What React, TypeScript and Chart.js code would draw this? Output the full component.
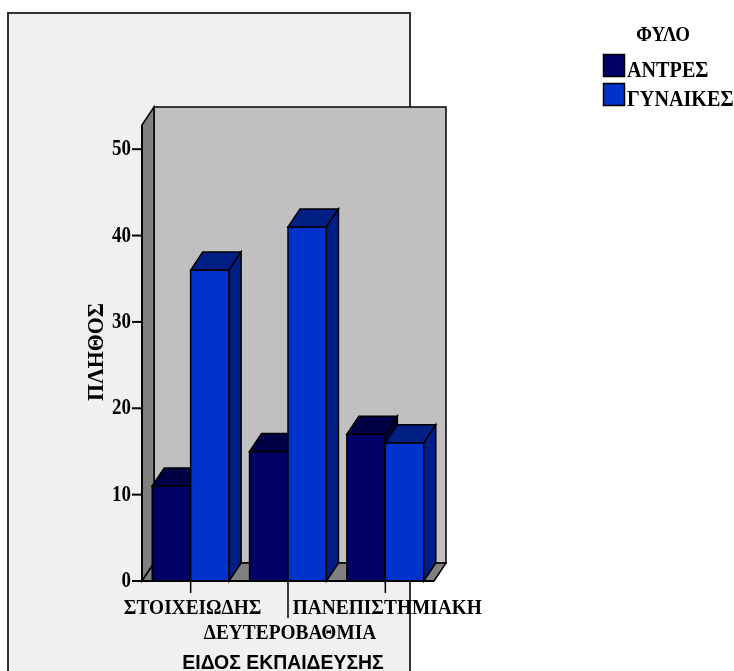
import { useEffect, useRef } from "react";
import { Chart, registerables } from "chart.js";

Chart.register(...registerables);

// Data
const categories = ["ΣΤΟΙΧΕΙΩΔΗΣ", "ΔΕΥΤΕΡΟΒΑΘΜΙΑ", "ΠΑΝΕΠΙΣΤΗΜΙΑΚΗ"];
const seriesLabels = ["ΑΝΤΡΕΣ", "ΓΥΝΑΙΚΕΣ"];
const menCounts = [11, 15, 17];
const womenCounts = [36, 41, 16];
const yTicks = [0, 10, 20, 30, 40, 50];
const yAxisTitle = "ΠΛΗΘΟΣ";
const xAxisTitle = "ΕΙΔΟΣ ΕΚΠΑΙΔΕΥΣΗΣ";
const legendTitle = "ΦΥΛΟ";

// Styling
const frontColors = ["#000066", "#0033cc"];
const shadeColors = ["#000044", "#001f85"];
const DX = 12;
const DY = -18;
const SERIF = "'Liberation Serif', 'Times New Roman', serif";
const SANS = "'Liberation Sans', Arial, sans-serif";

function drawText(
  ctx: CanvasRenderingContext2D,
  s: string,
  x: number,
  y: number,
  font: string,
  sx: number,
  align: CanvasTextAlign,
  baseline: CanvasTextBaseline = "middle",
  rotate = 0
) {
  ctx.save();
  ctx.font = font;
  ctx.fillStyle = "#000";
  ctx.textBaseline = baseline;
  ctx.textAlign = align;
  ctx.translate(x, y);
  if (rotate) ctx.rotate(rotate);
  ctx.scale(sx, 1);
  ctx.fillText(s, 0, 0);
  ctx.restore();
}

function poly(ctx: CanvasRenderingContext2D, pts: number[][], fill: string) {
  ctx.beginPath();
  ctx.moveTo(pts[0][0], pts[0][1]);
  for (let i = 1; i < pts.length; i++) ctx.lineTo(pts[i][0], pts[i][1]);
  ctx.closePath();
  ctx.fillStyle = fill;
  ctx.fill();
  ctx.stroke();
}

const chart3d = {
  id: "chart3d",
  beforeDraw(chart: any) {
    const ctx: CanvasRenderingContext2D = chart.ctx;
    ctx.save();
    ctx.fillStyle = "#ffffff";
    ctx.fillRect(0, 0, chart.width, chart.height);
    ctx.fillStyle = "#f0f0f0";
    ctx.fillRect(8, 13, 402, 700);
    ctx.strokeStyle = "#333333";
    ctx.lineWidth = 2;
    ctx.strokeRect(8, 13, 402, 700);
    ctx.restore();
  },
  beforeDatasetsDraw(chart: any) {
    const ctx: CanvasRenderingContext2D = chart.ctx;
    const { left, right, top, bottom } = chart.chartArea;
    ctx.save();
    ctx.strokeStyle = "#000";
    ctx.lineWidth = 1.5;
    ctx.lineJoin = "miter";
    // back wall
    poly(
      ctx,
      [
        [left + DX, top + DY],
        [right + DX, top + DY],
        [right + DX, bottom + DY],
        [left + DX, bottom + DY],
      ],
      "#c0c0c0"
    );
    // side wall
    poly(
      ctx,
      [
        [left, top],
        [left + DX, top + DY],
        [left + DX, bottom + DY],
        [left, bottom],
      ],
      "#808080"
    );
    // floor
    poly(
      ctx,
      [
        [left, bottom],
        [left + DX, bottom + DY],
        [right + DX, bottom + DY],
        [right, bottom],
      ],
      "#808080"
    );

    // bars, drawn left to right so nearer faces overlap correctly
    const metas = chart.data.datasets.map((_: any, i: number) => chart.getDatasetMeta(i));
    for (let j = 0; j < categories.length; j++) {
      metas.forEach((meta: any, i: number) => {
        const el = meta.data[j];
        if (!el) return;
        const { x, y, base, width } = el.getProps(["x", "y", "base", "width"], true);
        const l = x - width / 2;
        const r = x + width / 2;
        const t = Math.min(y, base);
        const b = Math.max(y, base);
        poly(ctx, [[l, t], [r, t], [r, b], [l, b]], frontColors[i]);
        poly(ctx, [[l, t], [l + DX, t + DY], [r + DX, t + DY], [r, t]], shadeColors[i]);
        poly(ctx, [[r, t], [r + DX, t + DY], [r + DX, b + DY], [r, b]], shadeColors[i]);
      });
    }
    ctx.restore();
    return false;
  },
  afterDraw(chart: any) {
    const ctx: CanvasRenderingContext2D = chart.ctx;
    const { left, right, top, bottom } = chart.chartArea;
    const xs = chart.scales.x;
    const ys = chart.scales.y;
    ctx.save();
    ctx.strokeStyle = "#000";
    ctx.lineWidth = 2;

    // y axis line, ticks and labels
    ctx.beginPath();
    ctx.moveTo(left, top);
    ctx.lineTo(left, bottom);
    ctx.moveTo(left, bottom);
    ctx.lineTo(right, bottom);
    ctx.stroke();
    yTicks.forEach((v) => {
      const py = ys.getPixelForValue(v);
      ctx.beginPath();
      ctx.moveTo(left - 10, py);
      ctx.lineTo(left, py);
      ctx.stroke();
      drawText(ctx, String(v), left - 11, py, `bold 24px ${SERIF}`, 0.79, "right");
    });

    // x ticks and staggered labels
    ctx.lineWidth = 1.5;
    categories.forEach((c, j) => {
      const px = xs.getPixelForValue(j);
      const lower = j % 2 === 1;
      ctx.beginPath();
      ctx.moveTo(px, bottom);
      ctx.lineTo(px, bottom + (lower ? 37 : 12));
      ctx.stroke();
      drawText(ctx, c, px + 2, bottom + (lower ? 52 : 27), `bold 22px ${SERIF}`, 0.88, "center");
    });

    // axis titles
    drawText(ctx, yAxisTitle, 97, 352, `bold 23px ${SERIF}`, 0.95, "center", "middle", -Math.PI / 2);
    drawText(ctx, xAxisTitle, 283, 663, `bold 20px ${SANS}`, 0.97, "center");

    // legend
    drawText(ctx, legendTitle, 663, 35, `bold 22px ${SERIF}`, 0.86, "center");
    chart.data.datasets.forEach((ds: any, i: number) => {
      const by = 54 + i * 29;
      ctx.fillStyle = frontColors[i];
      ctx.fillRect(603, by, 22, 23);
      ctx.lineWidth = 1.5;
      ctx.strokeStyle = "#000";
      ctx.strokeRect(603.5, by + 0.5, 21, 22);
      drawText(ctx, ds.label, 627, by + 23, `bold 24px ${SERIF}`, 0.84, "left", "alphabetic");
    });
    ctx.restore();
  },
};

export default function App() {
  const canvasRef = useRef<HTMLCanvasElement | null>(null);

  useEffect(() => {
    if (!canvasRef.current) return;
    const chart = new Chart(canvasRef.current, {
      type: "bar",
      data: {
        labels: categories,
        datasets: [
          {
            label: seriesLabels[0],
            data: menCounts,
            backgroundColor: frontColors[0],
            categoryPercentage: 0.79,
            barPercentage: 1,
          },
          {
            label: seriesLabels[1],
            data: womenCounts,
            backgroundColor: frontColors[1],
            categoryPercentage: 0.79,
            barPercentage: 1,
          },
        ],
      },
      options: {
        responsive: false,
        animation: false,
        layout: { padding: { left: 0, right: 300, top: 125, bottom: 0 } },
        plugins: { legend: { display: false }, tooltip: { enabled: false } },
        scales: {
          x: {
            type: "category",
            offset: true,
            grid: { display: false },
            border: { display: false },
            ticks: { display: false },
            afterFit: (s: any) => {
              s.height = 90;
            },
          },
          y: {
            min: 0,
            max: 52.8,
            grid: { display: false },
            border: { display: false },
            ticks: { display: false },
            afterFit: (s: any) => {
              s.width = 142;
            },
          },
        },
      },
      plugins: [chart3d],
    });
    return () => chart.destroy();
  }, []);

  return (
    <div style={{ position: "absolute", left: 0, top: 0, width: 734, height: 671 }}>
      <canvas ref={canvasRef} width={734} height={671} />
    </div>
  );
}
